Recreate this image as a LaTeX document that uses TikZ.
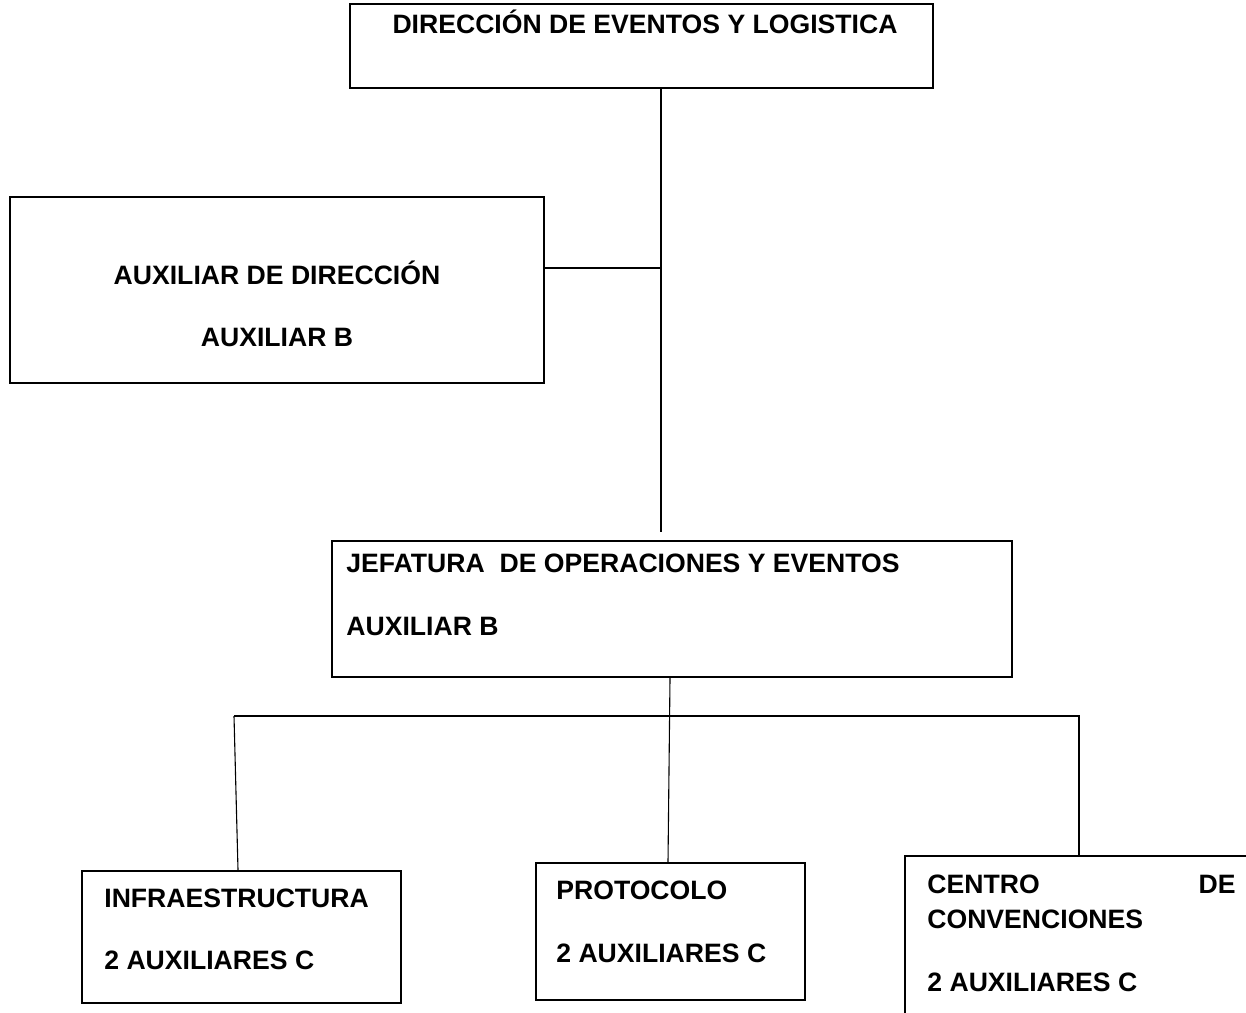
\documentclass[tikz,border=0pt]{standalone}
\usepackage{fontspec}
\setmainfont{Liberation Sans}

\tikzset{every picture/.style={line width=0.75pt}}

\begin{document}
\begin{tikzpicture}[x=1pt,y=1pt,yscale=-1,xscale=1,
	caja/.style={draw, rectangle, line width=2.4pt, inner sep=0pt},
	texto/.style={inner sep=0pt, font=\fontsize{26.6}{32}\bfseries\selectfont},
	linea/.style={line width=1.1pt}]
	\useasboundingbox (0,0) rectangle (1246,1012);

	%Shape: Rectangle [id:dir]
	\node [caja, minimum width=583pt, minimum height=84pt] (dir) at (641.5,46) {};
	%Shape: Rectangle [id:aux]
	\node [caja, minimum width=534pt, minimum height=186pt] (aux) at (277,290) {};
	%Shape: Rectangle [id:jef]
	\node [caja, minimum width=680pt, minimum height=136pt] (jef) at (672,609) {};
	%Shape: Rectangle [id:infra]
	\node [caja, minimum width=319pt, minimum height=132pt] (infra) at (241.5,937) {};
	%Shape: Rectangle [id:proto]
	\node [caja, minimum width=269pt, minimum height=137pt] (proto) at (670.5,931.5) {};
	%Shape: Rectangle [id:centro]
	\node [caja, minimum width=355pt, minimum height=174pt] (centro) at (1082.5,943) {};

	%Straight Lines [id:dir-jef]
	\coordinate (finjef) at (661,532);
	\coordinate (cruce) at (661,268);
	\draw [linea] (dir.south -| finjef) -- (finjef) ;
	%Straight Lines [id:aux]
	\draw [linea] (aux.east |- cruce) -- (cruce) ;
	%Straight Lines [id:jef-proto]
	\draw [linea] (jef.south -| 670,0) -- (proto.north -| 668,0) ;
	%Straight Lines [id:bus]
	\coordinate (busizq) at (234,716);
	\coordinate (busder) at (1080,716);
	\draw [linea] (busizq) -- (busder) ;
	%Straight Lines [id:bus-infra]
	\draw [linea] (busizq) -- (infra.north -| 238,0) ;
	%Straight Lines [id:bus-centro]
	\draw [linea] (busder -| 1079,0) -- (centro.north -| 1079,0) ;

	% Text Node
	\node [texto, anchor=base] (tdir) at (645,33) {DIRECCIÓN DE EVENTOS Y LOGISTICA};
	% Text Node
	\node [texto, anchor=base] (taux) at (277,284) {AUXILIAR DE DIRECCIÓN};
	% Text Node
	\node [texto, anchor=base] (tauxb) at (277,346) {AUXILIAR B};
	% Text Node
	\node [texto, anchor=base west] (tjef) at (346,572) {JEFATURA\ \ DE OPERACIONES Y EVENTOS};
	% Text Node
	\node [texto, anchor=base west] (tjefb) at (346,635) {AUXILIAR B};
	% Text Node
	\node [texto, anchor=base west] (tinfra) at (104,907) {INFRAESTRUCTURA};
	% Text Node
	\node [texto, anchor=base west] (tinfrab) at (104,969) {2 AUXILIARES C};
	% Text Node
	\node [texto, anchor=base west] (tproto) at (556,899) {PROTOCOLO};
	% Text Node
	\node [texto, anchor=base west] (tprotob) at (556,962) {2 AUXILIARES C};
	% Text Node
	\node [texto, anchor=base west] (tcentro) at (927,893) {CENTRO};
	% Text Node
	\node [texto, anchor=base east] (tde) at (1236,893) {DE};
	% Text Node
	\node [texto, anchor=base west] (tconv) at (927,928) {CONVENCIONES};
	% Text Node
	\node [texto, anchor=base west] (tcentrob) at (927,991) {2 AUXILIARES C};

\end{tikzpicture}
\end{document}
